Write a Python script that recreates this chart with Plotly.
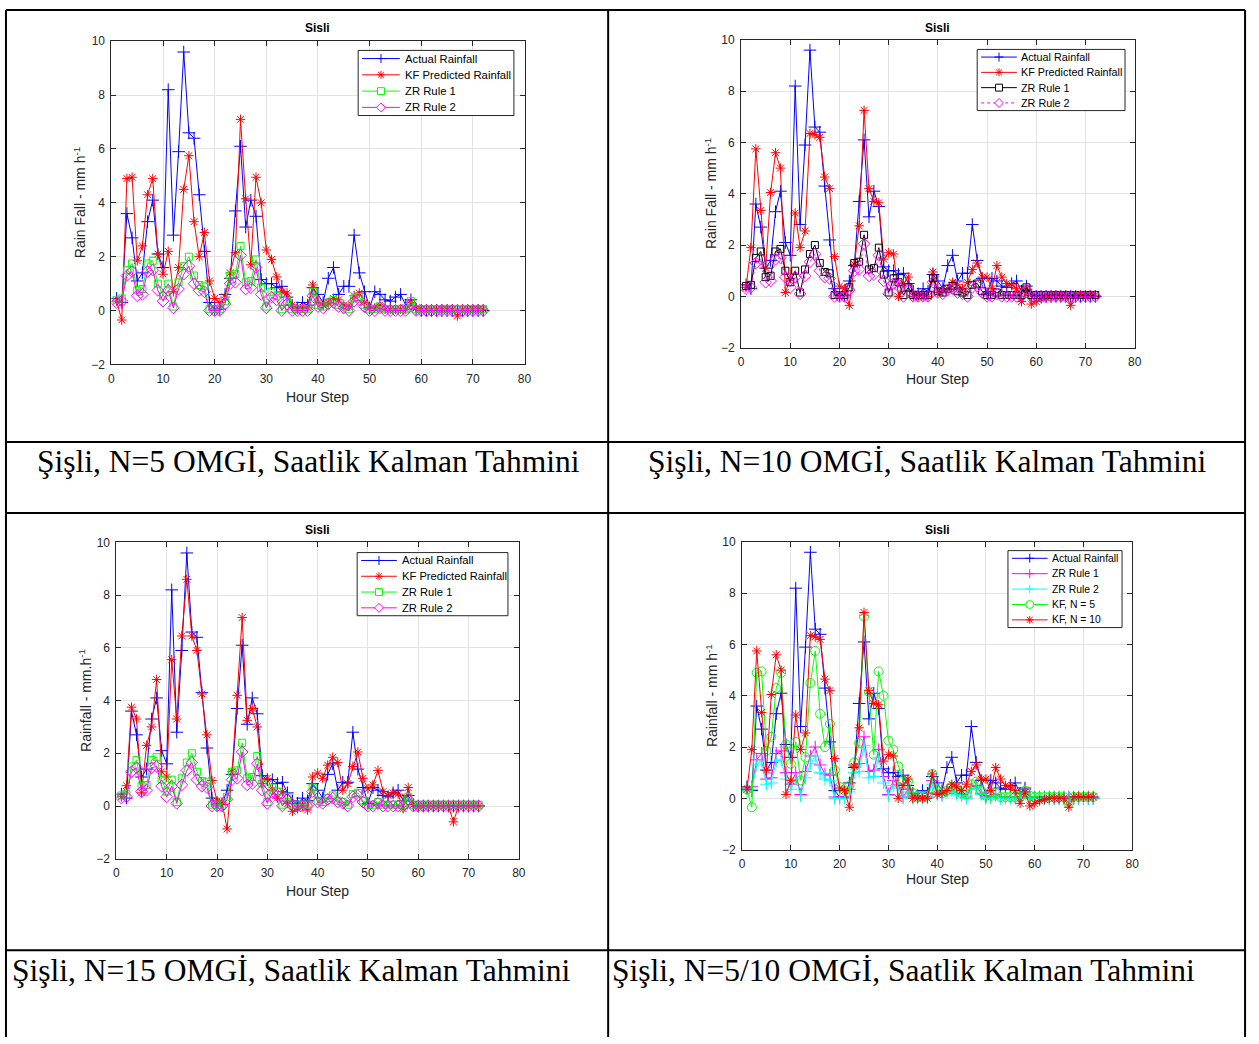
import plotly.graph_objects as go

# ---- data: hourly rainfall at Sisli, hours 1..72 (mm/h) ----
hours = list(range(1, 73))

actual_rain = [
    0.45, 0.30, 3.60, 2.70, 1.10, 1.40, 3.30, 4.10, 2.10, 1.60,
    8.20, 2.80, 5.90, 9.60, 6.60, 6.40, 4.30, 2.20, 0.30, 0.05,
    0.05, 0.60, 1.20, 3.70, 6.10, 3.10, 4.10, 3.50, 1.15, 1.00,
    1.00, 0.85, 0.90, 0.50, 0.20, 0.10, 0.30, 0.20, 0.85, 0.60,
    0.30, 1.20, 1.60, 0.60, 0.90, 0.90, 2.80, 1.40, 0.70, 0.10,
    0.70, 0.60, 0.40, 0.35, 0.50, 0.60, 0.20, 0.40, 0.05, 0.00,
    0.00, 0.00, 0.00, 0.00, 0.00, 0.00, 0.00, 0.00, 0.00, 0.00,
    0.00, 0.00,
]

kf_n5 = [
    0.35, -0.35, 4.90, 4.95, 1.85, 2.40, 4.30, 4.90, 2.10, 1.35,
    2.20, 0.70, 1.60, 4.50, 5.75, 3.30, 2.00, 2.90, 1.10, 0.45,
    0.30, 0.50, 1.40, 2.15, 7.10, 4.15, 1.70, 4.95, 4.00, 2.25,
    1.90, 1.25, 0.70, 0.65, 0.20, 0.10, 0.10, 0.10, 0.95, 0.30,
    0.20, 0.30, 0.45, 0.40, 0.20, 0.15, 0.55, 0.65, 0.30, 0.10,
    0.10, 0.20, 0.05, 0.05, 0.05, 0.05, 0.05, 0.30, 0.10, 0.05,
    0.05, 0.05, 0.05, 0.05, 0.05, 0.05, -0.20, 0.05, 0.05, 0.05,
    0.05, 0.05,
]

kf_n10 = [
    0.35, 1.90, 5.75, 3.35, 1.10, 4.05, 5.60, 5.00, 0.15, 0.70,
    3.25, 1.90, 2.55, 6.35, 6.30, 6.20, 4.65, 4.20, 1.55, 0.40,
    0.30, -0.35, 1.25, 2.75, 7.25, 4.20, 3.70, 3.65, 1.45, 1.70,
    1.65, 0.00, 0.50, 0.75, 0.00, 0.00, 0.00, 0.00, 0.95, 0.15,
    0.20, 0.30, 0.55, 0.45, 0.30, 0.55, 1.05, 1.30, 0.75, 0.75,
    0.30, 1.20, 0.75, 0.50, 0.45, 0.30, -0.20, 0.25, -0.30, -0.20,
    -0.10, -0.05, 0.00, 0.00, 0.00, 0.00, -0.35, 0.05, 0.05, 0.05,
    0.05, 0.05,
]

kf_n15 = [
    0.35, 0.77, 3.75, 3.30, 0.50, 2.30, 3.00, 4.80, 1.30, 1.10,
    5.55, 3.30, 6.45, 8.60, 6.45, 5.90, 4.25, 2.70, 0.97, 0.20,
    0.15, -0.87, 1.30, 4.20, 7.15, 3.25, 3.70, 3.00, 0.85, 1.05,
    0.60, 0.30, 0.55, 0.10, -0.20, -0.10, 0.00, -0.15, 1.10, 1.25,
    1.05, 1.55, 1.85, 1.65, 0.60, 0.85, 1.50, 2.05, 1.05, 0.65,
    0.80, 1.35, 0.55, 0.40, 0.50, 0.45, -0.10, 0.70, 0.05, -0.05,
    0.00, 0.00, 0.00, 0.00, 0.00, 0.00, -0.60, 0.00, 0.00, 0.00,
    0.00, 0.00,
]

zr_rule1 = [
    0.40, 0.45, 1.50, 1.75, 0.75, 0.80, 1.75, 1.85, 1.00, 0.55,
    1.00, 0.15, 1.05, 1.65, 2.00, 1.30, 0.95, 0.90, 0.05, 0.05,
    0.05, 0.35, 1.30, 1.35, 2.40, 1.05, 1.10, 1.90, 0.85, 0.15,
    0.70, 0.55, 0.05, 0.35, 0.05, 0.05, 0.05, 0.05, 0.70, 0.20,
    0.15, 0.30, 0.40, 0.20, 0.15, 0.05, 0.45, 0.50, 0.20, 0.05,
    0.05, 0.15, 0.05, 0.05, 0.05, 0.05, 0.05, 0.35, 0.05, 0.05,
    0.05, 0.05, 0.05, 0.05, 0.05, 0.05, 0.05, 0.05, 0.05, 0.05,
    0.05, 0.05,
]

zr_rule2 = [
    0.30, 0.35, 1.30, 1.45, 0.55, 0.60, 1.45, 1.50, 0.75, 0.35,
    0.75, 0.10, 0.80, 1.35, 1.65, 1.00, 0.75, 0.70, 0.00, 0.00,
    0.00, 0.25, 1.00, 1.05, 2.05, 0.80, 0.85, 1.60, 0.60, 0.10,
    0.50, 0.40, 0.00, 0.25, 0.00, 0.00, 0.00, 0.00, 0.55, 0.15,
    0.10, 0.25, 0.30, 0.15, 0.10, 0.00, 0.35, 0.40, 0.15, 0.00,
    0.00, 0.10, 0.00, 0.00, 0.00, 0.00, 0.00, 0.25, 0.00, 0.00,
    0.00, 0.00, 0.00, 0.00, 0.00, 0.00, 0.00, 0.00, 0.00, 0.00,
    0.00, 0.00,
]

panel_titles = ["Sisli", "Sisli", "Sisli", "Sisli"]
x_label = "Hour Step"
y_labels = [
    "Rain Fall - mm h<sup>-1</sup>",
    "Rain Fall - mm h<sup>-1</sup>",
    "Rainfall - mm.h<sup>-1</sup>",
    "Rainfall - mm h<sup>-1</sup>",
]
captions = [
    "Şişli, N=5 OMGİ, Saatlik Kalman Tahmini",
    "Şişli, N=10 OMGİ, Saatlik Kalman Tahmini",
    "Şişli, N=15 OMGİ, Saatlik Kalman Tahmini",
    "Şişli, N=5/10 OMGİ, Saatlik Kalman Tahmini",
]
x_ticks = [0, 10, 20, 30, 40, 50, 60, 70, 80]
y_ticks = [-2, 0, 2, 4, 6, 8, 10]

# ---- page geometry (pixels) ----
W, H = 1259, 1044
SANS = "Liberation Sans, Arial, sans-serif"
SERIF = "Liberation Serif, Times New Roman, serif"
INK = "#262626"


def fx(p):
    return p / W


def fy(p):
    return 1 - p / H


# axes rectangles (left, right, top, bottom), label positions and legend boxes
panels = [
    dict(box=(109.3, 525.7, 34.7, 362.3), title_y=21, xlab_y=395, ylab_x=77,
         legend=(358, 44, 515, 110), leg_line=(362, 400), leg_text=403, leg_font=11.3),
    dict(box=(744.0, 1140.7, 33.3, 345.3), title_y=21, xlab_y=377, ylab_x=713,
         legend=(982, 43, 1131, 105), leg_line=(986, 1022), leg_text=1024, leg_font=10.8),
    dict(box=(114.3, 520.0, 542.7, 863.3), title_y=530, xlab_y=896, ylab_x=82,
         legend=(357, 553, 509, 617), leg_line=(361, 397), leg_text=400, leg_font=11.2),
    dict(box=(745.0, 1138.3, 542.3, 854.0), title_y=530, xlab_y=884, ylab_x=714,
         legend=(1013, 551, 1128, 629), leg_line=(1017, 1053), leg_text=1055, leg_font=10.4),
]

BLUE, RED, GREEN, MAG, BLACK, CYAN = "#0000ff", "#ff0000", "#00ff00", "#ff00ff", "#000000", "#00ffff"

# series per panel: (name, values, colour, marker kind, marker size, dash)
series = [
    [
        ("Actual Rainfall", actual_rain, BLUE, "plus", 9, "solid"),
        ("KF Predicted Rainfall", kf_n5, RED, "star", 8, "solid"),
        ("ZR Rule 1", zr_rule1, GREEN, "square", 7, "solid"),
        ("ZR Rule 2", zr_rule2, MAG, "diamond", 9, "solid"),
    ],
    [
        ("Actual Rainfall", actual_rain, BLUE, "plus", 9, "solid"),
        ("KF Predicted Rainfall", kf_n10, RED, "star", 8, "solid"),
        ("ZR Rule 1", zr_rule1, BLACK, "square", 7, "solid"),
        ("ZR Rule 2", zr_rule2, MAG, "diamond", 9, "dot"),
    ],
    [
        ("Actual Rainfall", actual_rain, BLUE, "plus", 9, "solid"),
        ("KF Predicted Rainfall", kf_n15, RED, "star", 8, "solid"),
        ("ZR Rule 1", zr_rule1, GREEN, "square", 7, "solid"),
        ("ZR Rule 2", zr_rule2, MAG, "diamond", 9, "solid"),
    ],
    [
        ("Actual Rainfall", actual_rain, BLUE, "plus", 9, "solid"),
        ("ZR Rule 1", zr_rule1, MAG, "plus", 9, "solid"),
        ("ZR Rule 2", zr_rule2, CYAN, "plus", 9, "solid"),
        ("KF, N = 5", kf_n5, GREEN, "circle", 9, "solid"),
        ("KF, N = 10", kf_n10, RED, "star", 8, "solid"),
    ],
]

# plotly symbol names for the marker styles
plotly_symbol = {
    "plus": "cross-thin-open",
    "star": "asterisk-open",
    "square": "square-open",
    "diamond": "diamond-open",
    "circle": "circle-open",
}


def seg(x0, y0, x1, y1):
    return "M%.6f,%.6f L%.6f,%.6f " % (fx(x0), fy(y0), fx(x1), fy(y1))


def legend_glyph(kind, cx, cy, color):
    """Shapes drawing one legend marker centred at pixel (cx, cy)."""
    base = dict(xref="paper", yref="paper", line=dict(color=color, width=1))
    if kind == "plus":
        r = 4.5
        return [dict(base, type="path", path=seg(cx - r, cy, cx + r, cy) + seg(cx, cy - r, cx, cy + r))]
    if kind == "star":
        r, d = 4.0, 2.9
        p = (seg(cx - r, cy, cx + r, cy) + seg(cx, cy - r, cx, cy + r)
             + seg(cx - d, cy - d, cx + d, cy + d) + seg(cx - d, cy + d, cx + d, cy - d))
        return [dict(base, type="path", path=p)]
    if kind == "square":
        r = 3.5
        return [dict(base, type="rect", x0=fx(cx - r), x1=fx(cx + r), y0=fy(cy + r), y1=fy(cy - r),
                     fillcolor="white")]
    if kind == "diamond":
        r = 4.5
        p = "M%.6f,%.6f L%.6f,%.6f L%.6f,%.6f L%.6f,%.6f Z" % (
            fx(cx - r), fy(cy), fx(cx), fy(cy - r), fx(cx + r), fy(cy), fx(cx), fy(cy + r))
        return [dict(base, type="path", path=p, fillcolor="white")]
    if kind == "circle":
        r = 4.0
        return [dict(base, type="circle", x0=fx(cx - r), x1=fx(cx + r), y0=fy(cy + r), y1=fy(cy - r),
                     fillcolor="white")]
    return []


fig = go.Figure()
layout = dict(
    width=W, height=H, margin=dict(l=0, r=0, t=0, b=0),
    paper_bgcolor="white", plot_bgcolor="rgba(0,0,0,0)",
    font=dict(family=SANS, color=INK, size=12),
    showlegend=False,
    annotations=[], shapes=[],
)

for i, (pan, ser) in enumerate(zip(panels, series)):
    k = "" if i == 0 else str(i + 1)
    left, right, top, bottom = pan["box"]
    for name, vals, col, kind, size, dash in ser:
        fig.add_trace(go.Scatter(
            x=hours, y=vals, name=name, mode="lines+markers",
            xaxis="x" + k, yaxis="y" + k,
            line=dict(color=col, width=1, dash=dash),
            marker=dict(symbol=plotly_symbol[kind], size=size, color=col,
                        line=dict(color=col, width=1)),
        ))
    common = dict(
        showline=True, linecolor=INK, linewidth=1, mirror="ticks",
        ticks="inside", ticklen=5, tickcolor=INK, tickwidth=1,
        showgrid=True, gridcolor="#e3e3e3", gridwidth=1, zeroline=False,
        tickfont=dict(family=SANS, size=12, color=INK),
    )
    layout["xaxis" + k] = dict(
        common, domain=[fx(left), fx(right)], anchor="y" + k,
        range=[0, 80], tickvals=x_ticks, ticklabelstandoff=3,
    )
    layout["yaxis" + k] = dict(
        common, domain=[fy(bottom), fy(top)], anchor="x" + k,
        range=[-2, 10], tickvals=y_ticks, ticklabelstandoff=3,
    )

    # boxed legend in the upper right of each axes
    bl, bt, br, bb = pan["legend"]
    layout["shapes"].append(dict(
        type="rect", xref="paper", yref="paper",
        x0=fx(bl), x1=fx(br), y0=fy(bb), y1=fy(bt),
        line=dict(color=INK, width=1), fillcolor="white",
    ))
    step = (bb - bt) / len(ser)
    lx0, lx1 = pan["leg_line"]
    for j, (name, vals, col, kind, size, dash) in enumerate(ser):
        yc = bt + step * (j + 0.5)
        layout["shapes"].append(dict(
            type="line", xref="paper", yref="paper",
            x0=fx(lx0), x1=fx(lx1), y0=fy(yc), y1=fy(yc),
            line=dict(color=col, width=1, dash=dash),
        ))
        layout["shapes"] += legend_glyph(kind, (lx0 + lx1) / 2, yc, col)
        layout["annotations"].append(dict(
            text=name, x=fx(pan["leg_text"]), y=fy(yc), xref="paper", yref="paper",
            showarrow=False, xanchor="left", yanchor="middle",
            font=dict(family=SANS, size=pan["leg_font"], color="#000000"),
        ))

    cx = (left + right) / 2
    layout["annotations"] += [
        dict(text="<b>" + panel_titles[i] + "</b>", x=fx(cx), y=fy(pan["title_y"]),
             xref="paper", yref="paper", showarrow=False,
             xanchor="center", yanchor="middle",
             font=dict(family=SANS, size=12, color="#000000")),
        dict(text=x_label, x=fx(cx), y=fy(pan["xlab_y"]),
             xref="paper", yref="paper", showarrow=False,
             xanchor="center", yanchor="middle",
             font=dict(family=SANS, size=14, color=INK)),
        dict(text=y_labels[i], x=fx(pan["ylab_x"]), y=fy((top + bottom) / 2),
             xref="paper", yref="paper", showarrow=False, textangle=-90,
             xanchor="center", yanchor="middle",
             font=dict(family=SANS, size=14, color=INK)),
    ]

# captions in the table cells
cap_pos = [(308, 461, "center"), (932, 461, "center"), (7, 977, "left"), (612, 977, "left")]
for text, (cx, cy, anchor) in zip(captions, cap_pos):
    layout["annotations"].append(dict(
        text=text, x=fx(cx), y=fy(cy), xref="paper", yref="paper",
        showarrow=False, xanchor=anchor, yanchor="middle",
        font=dict(family=SERIF, size=31.5, color="#000000"),
    ))

# table rules
rule = dict(type="line", xref="paper", yref="paper", line=dict(color="#000000", width=2))
for xv in (3, 610, 1252):
    layout["shapes"].append(dict(rule, x0=fx(xv), x1=fx(xv), y0=fy(3), y1=fy(1044)))
for yv in (3, 441, 513, 956):
    layout["shapes"].append(dict(rule, x0=fx(3), x1=fx(1252), y0=fy(yv), y1=fy(yv)))

fig.update_layout(**layout)
fig.write_html("out.html")
